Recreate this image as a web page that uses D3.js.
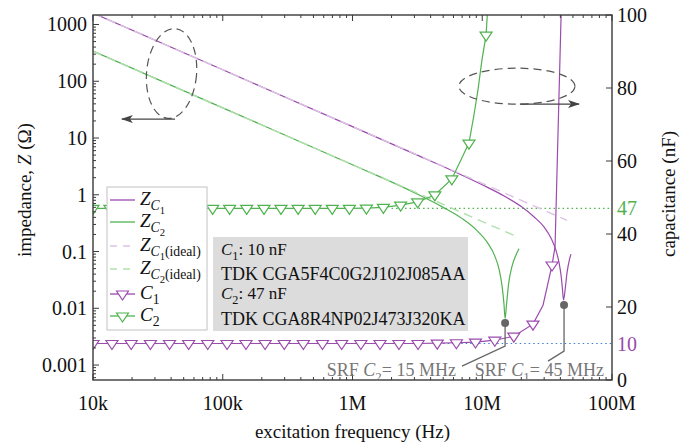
<!DOCTYPE html>
<html>
<head>
<meta charset="utf-8">
<style>
body { margin: 0; background: #fff; }
svg { display: block; font-family: "Liberation Serif", "DejaVu Serif", serif; }
</style>
</head>
<body>
<div id="chart"></div>
<script src="https://cdn.jsdelivr.net/npm/d3@7"></script>
<script>
// impedance, measured (Hz, ohm)
const zc1Freq = [1e4, 1e5, 1e6, 3e6, 6e6, 1e7, 1.5e7, 2e7, 2.5e7, 3e7, 3.4e7, 3.7e7, 3.9e7, 4.05e7, 4.15e7, 4.23e7, 4.35e7, 4.5e7, 4.7e7, 4.83e7];
const zc1Val  = [1590, 159, 15.9, 5.25, 2.6, 1.5, 0.93, 0.62, 0.41, 0.27, 0.17, 0.105, 0.065, 0.038, 0.022, 0.014, 0.021, 0.042, 0.072, 0.09];
const zc2Freq = [1e4, 1e5, 1e6, 3e6, 5e6, 7e6, 9e6, 1.1e7, 1.25e7, 1.35e7, 1.42e7, 1.47e7, 1.5e7, 1.54e7, 1.6e7, 1.7e7, 1.8e7, 1.92e7];
const zc2Val  = [339, 33.9, 3.39, 1.09, 0.60, 0.38, 0.24, 0.142, 0.083, 0.048, 0.025, 0.012, 0.0066, 0.012, 0.028, 0.056, 0.082, 0.112];

// ideal capacitor impedance
const zc1IdealFreq = [1e4, 4.5e7];
const zc1IdealVal  = [1590, 0.354];
const zc2IdealFreq = [1e4, 1.9e7];
const zc2IdealVal  = [339, 0.178];

// effective capacitance (nF), marker points
const c1Freq = [1e4, 1.40e4, 1.97e4, 2.77e4, 3.89e4, 5.46e4, 7.66e4, 1.08e5, 1.51e5, 2.12e5, 2.98e5, 4.18e5, 5.87e5, 8.25e5, 1.16e6, 1.63e6, 2.28e6, 3.20e6, 4.50e6, 6.32e6, 8.87e6, 1.25e7, 1.75e7, 2.46e7, 3.45e7];
const c1Cap  = [10, 10, 10, 10, 10, 10, 10, 10, 10, 10, 10, 10, 10, 10, 10, 10, 10, 10, 10.1, 10.2, 10.4, 10.9, 12.0, 15.3, 31.5];
// extra line points between markers
const c1FreqX = [2.94e7, 3.64e7, 4.08e7];
const c1CapX  = [20.5, 36.5, 104];

const c2Freq = [1e4, 1.35e4, 1.83e4, 2.48e4, 3.36e4, 4.55e4, 6.17e4, 8.36e4, 1.13e5, 1.53e5, 2.08e5, 2.81e5, 3.81e5, 5.16e5, 6.98e5, 9.46e5, 1.28e6, 1.73e6, 2.35e6, 3.18e6, 4.31e6, 5.83e6, 7.90e6, 1.07e7];
const c2Cap  = [47, 47, 47, 47, 47, 47, 47, 47, 47, 47, 47, 47, 47, 47, 47, 47, 47.1, 47.3, 47.9, 48.8, 50.7, 55.1, 64.9, 94.5];
const c2FreqX = [8.63e6, 9.27e6, 9.95e6, 1.12e7];
const c2CapX  = [72.6, 79.5, 87.7, 106];

// axis ticks
const fTicks = [1e4, 1e5, 1e6, 1e7, 1e8];
const fTickLabels = ["10k", "100k", "1M", "10M", "100M"];
const zTicks = [0.001, 0.01, 0.1, 1, 10, 100, 1000];
const zTickLabels = ["0.001", "0.01", "0.1", "1", "10", "100", "1000"];
const cTicks = [0, 20, 40, 60, 80, 100];

const purple = "#9b4aad", purpleLight = "#dcc4e4";
const green = "#4fb24f", greenLight = "#b2dfae";
const grey = "#666";

const width = 697, height = 445;
const pl = 93, pr = 612, pt = 15, pb = 380;

const x = d3.scaleLog().domain([1e4, 1e8]).range([pl, pr]);
const y = d3.scaleLog().domain([5.45e-4, 1470]).range([pb, pt]);
const yc = d3.scaleLinear().domain([0, 100]).range([pb, pt]);

const svg = d3.select("#chart").append("svg")
    .attr("width", width).attr("height", height);

svg.append("clipPath").attr("id", "clip")
  .append("rect").attr("x", pl).attr("y", pt)
    .attr("width", pr - pl).attr("height", pb - pt);

const zip = (a, b) => a.map((v, i) => [v, b[i]]);
const merge = (fa, va, fb, vb) => zip(fa, va).concat(zip(fb, vb)).sort((p, q) => p[0] - q[0]);

const zLine = d3.line().x(d => x(d[0])).y(d => y(d[1])).curve(d3.curveMonotoneX);
const cLine = d3.line().x(d => x(d[0])).y(d => yc(d[1]));

const plot = svg.append("g").attr("clip-path", "url(#clip)");

// reference levels
plot.append("line")
    .attr("x1", x(2e6)).attr("x2", pr)
    .attr("y1", yc(47)).attr("y2", yc(47))
    .attr("stroke", green).attr("stroke-width", 1.2).attr("stroke-dasharray", "1.5,3");
plot.append("line")
    .attr("x1", x(5e6)).attr("x2", pr)
    .attr("y1", yc(10)).attr("y2", yc(10))
    .attr("stroke", "#3f7fd6").attr("stroke-width", 1.2).attr("stroke-dasharray", "1.5,3");

// impedance curves
plot.append("path").datum(zip(zc1Freq, zc1Val))
    .attr("d", zLine).attr("fill", "none").attr("stroke", purple).attr("stroke-width", 1.2);
plot.append("path").datum(zip(zc2Freq, zc2Val))
    .attr("d", zLine).attr("fill", "none").attr("stroke", green).attr("stroke-width", 1.2);
plot.append("path").datum(zip(zc1IdealFreq, zc1IdealVal))
    .attr("d", zLine).attr("fill", "none").attr("stroke", purpleLight).attr("stroke-width", 1.4)
    .attr("stroke-dasharray", "9,6");
plot.append("path").datum(zip(zc2IdealFreq, zc2IdealVal))
    .attr("d", zLine).attr("fill", "none").attr("stroke", greenLight).attr("stroke-width", 1.4)
    .attr("stroke-dasharray", "9,6");

// capacitance curves with markers
const tri = "M-6,-3L6,-3L0,6Z";
function capSeries(f, v, fx, vx, col) {
  plot.append("path").datum(merge(f, v, fx, vx))
      .attr("d", cLine).attr("fill", "none").attr("stroke", col).attr("stroke-width", 1.2);
  plot.selectAll(null).data(zip(f, v)).join("path")
      .attr("d", tri)
      .attr("transform", d => `translate(${x(d[0])},${yc(d[1])})`)
      .attr("fill", "#fff").attr("stroke", col).attr("stroke-width", 1.2);
}
capSeries(c1Freq, c1Cap, c1FreqX, c1CapX, purple);
capSeries(c2Freq, c2Cap, c2FreqX, c2CapX, green);

// frame and ticks
const axisCol = "#3a3a3a";
svg.append("rect").attr("x", pl).attr("y", pt)
    .attr("width", pr - pl).attr("height", pb - pt)
    .attr("fill", "none").attr("stroke", axisCol).attr("stroke-width", 1.4);

const tk = svg.append("g").attr("stroke", axisCol).attr("stroke-width", 1);
x.ticks().forEach(t => {
  const major = fTicks.includes(t);
  const len = major ? 6 : 3;
  tk.append("line").attr("x1", x(t)).attr("x2", x(t)).attr("y1", pb).attr("y2", pb - len);
  tk.append("line").attr("x1", x(t)).attr("x2", x(t)).attr("y1", pt).attr("y2", pt + len);
});
y.ticks().forEach(t => {
  const major = zTicks.some(z => Math.abs(z - t) / z < 1e-6);
  tk.append("line").attr("x1", pl).attr("x2", pl + (major ? 6 : 3)).attr("y1", y(t)).attr("y2", y(t));
});
cTicks.forEach(t => {
  tk.append("line").attr("x1", pr).attr("x2", pr - 6).attr("y1", yc(t)).attr("y2", yc(t));
});

const fs = 20;
svg.append("g").selectAll("text").data(fTicks).join("text")
    .attr("x", d => x(d)).attr("y", 410).attr("text-anchor", "middle")
    .attr("font-size", fs).attr("fill", "#111")
    .text((d, i) => fTickLabels[i]);
svg.append("g").selectAll("text").data(zTicks).join("text")
    .attr("x", pl - 6).attr("y", d => y(d) + 7).attr("text-anchor", "end")
    .attr("font-size", fs).attr("fill", "#111")
    .text((d, i) => zTickLabels[i]);
svg.append("g").selectAll("text").data(cTicks).join("text")
    .attr("x", pr + 5).attr("y", d => yc(d) + 7)
    .attr("font-size", fs).attr("fill", "#111")
    .text(d => d);
svg.append("text").attr("x", pr + 5).attr("y", yc(47) + 7)
    .attr("font-size", fs).attr("fill", green).text("47");
svg.append("text").attr("x", pr + 5).attr("y", yc(10) + 7)
    .attr("font-size", fs).attr("fill", purple).text("10");

// rich text helper (italic + subscripts)
function rich(g, px, py, parts, size, anchor) {
  const t = g.append("text").attr("x", px).attr("y", py).attr("font-size", size);
  if (anchor) t.attr("text-anchor", anchor);
  const off = [0, 0.28, 0.46], sc = [1, 0.72, 0.56];
  let lvl = 0;
  parts.forEach(p => {
    const l = p.l || 0;
    const s = t.append("tspan").text(p.t)
        .attr("font-size", size * sc[l])
        .attr("dy", (off[l] - off[lvl]) * size);
    if (p.i) s.attr("font-style", "italic");
    lvl = l;
  });
  return t;
}

// axis titles
svg.append("text").attr("transform", "translate(31,190) rotate(-90)")
    .attr("text-anchor", "middle").attr("font-size", 19).attr("fill", "#111")
    .call(t => {
      t.append("tspan").text("impedance, ");
      t.append("tspan").attr("font-style", "italic").text("Z");
      t.append("tspan").text(" (Ω)");
    });
svg.append("text").attr("transform", "translate(675,194) rotate(-90)")
    .attr("text-anchor", "middle").attr("font-size", 19).attr("fill", "#111")
    .text("capacitance (nF)");
svg.append("text").attr("x", (pl + pr) / 2).attr("y", 438)
    .attr("text-anchor", "middle").attr("font-size", 19).attr("fill", "#111")
    .text("excitation frequency (Hz)");

// ellipses with arrows
svg.append("defs").append("marker").attr("id", "arrow")
    .attr("viewBox", "0 0 12 8").attr("refX", 11).attr("refY", 4)
    .attr("markerWidth", 12).attr("markerHeight", 8).attr("markerUnits", "userSpaceOnUse")
    .attr("orient", "auto")
  .append("path").attr("d", "M0,0L12,4L0,8L3,4Z").attr("fill", "#444");

const ann = svg.append("g").attr("stroke", "#555").attr("fill", "none").attr("stroke-width", 1.2);
ann.append("ellipse")
    .attr("transform", `translate(${x(4.03e4)},${y(137)}) rotate(5)`)
    .attr("rx", 25).attr("ry", 45).attr("stroke-dasharray", "8,5");
ann.append("line")
    .attr("x1", x(4.29e4)).attr("x2", x(1.67e4)).attr("y1", y(21.6)).attr("y2", y(21.6))
    .attr("marker-end", "url(#arrow)").attr("stroke", "#444");
ann.append("ellipse")
    .attr("cx", x(1.85e7)).attr("cy", yc(80.5))
    .attr("rx", 58).attr("ry", 18).attr("stroke-dasharray", "8,5");
ann.append("line")
    .attr("x1", x(1.95e7)).attr("x2", x(5.57e7)).attr("y1", yc(75.6)).attr("y2", yc(75.6))
    .attr("marker-end", "url(#arrow)").attr("stroke", "#444");

// SRF markers
const srf = svg.append("g");
srf.append("path")
    .attr("d", d3.line()([[x(1.5e7), y(0.0055)], [x(1.5e7), y(0.00216)], [x(6.98e6), y(0.00096)]]))
    .attr("fill", "none").attr("stroke", grey).attr("stroke-width", 1.3);
srf.append("path")
    .attr("d", d3.line()([[x(4.27e7), y(0.0114)], [x(4.27e7), y(0.00176)], [x(3.21e7), y(0.00117)]]))
    .attr("fill", "none").attr("stroke", grey).attr("stroke-width", 1.3);
srf.append("circle").attr("cx", x(1.5e7)).attr("cy", y(0.0055)).attr("r", 4).attr("fill", grey);
srf.append("circle").attr("cx", x(4.27e7)).attr("cy", y(0.0114)).attr("r", 4).attr("fill", grey);
rich(srf, 456, 376, [{t: "SRF "}, {t: "C", i: 1}, {t: "2", l: 1}, {t: "= 15 MHz"}], 18, "end").attr("fill", "#777");
rich(srf, 604, 376, [{t: "SRF "}, {t: "C", i: 1}, {t: "1", l: 1}, {t: "= 45 MHz"}], 18, "end").attr("fill", "#777");

// part info box
const box = svg.append("g");
box.append("rect").attr("x", 213).attr("y", 237).attr("width", 255).attr("height", 94).attr("fill", "#dcdcdc");
rich(box, 221, 255, [{t: "C", i: 1}, {t: "1", l: 1}, {t: ":  10 nF"}], 17).attr("fill", "#111");
box.append("text").attr("x", 221).attr("y", 280).attr("font-size", 18).attr("fill", "#111").text("TDK CGA5F4C0G2J102J085AA");
rich(box, 221, 299, [{t: "C", i: 1}, {t: "2", l: 1}, {t: ":  47 nF"}], 17).attr("fill", "#111");
box.append("text").attr("x", 221).attr("y", 325).attr("font-size", 18).attr("fill", "#111").text("TDK CGA8R4NP02J473J320KA");

// legend
const lg = svg.append("g");
lg.append("rect").attr("x", 107).attr("y", 187).attr("width", 100).attr("height", 143)
    .attr("fill", "#fff").attr("stroke", "#ccc").attr("stroke-width", 1.2);
const rows = [
  {c: purple, dash: null, mk: false, parts: [{t: "Z", i: 1}, {t: "C", i: 1, l: 1}, {t: "1", l: 2}]},
  {c: green, dash: null, mk: false, parts: [{t: "Z", i: 1}, {t: "C", i: 1, l: 1}, {t: "2", l: 2}]},
  {c: purpleLight, dash: "7,6", mk: false, parts: [{t: "Z", i: 1}, {t: "C", i: 1, l: 1}, {t: "1", l: 2}, {t: "(ideal)", l: 1}]},
  {c: greenLight, dash: "7,6", mk: false, parts: [{t: "Z", i: 1}, {t: "C", i: 1, l: 1}, {t: "2", l: 2}, {t: "(ideal)", l: 1}]},
  {c: purple, dash: null, mk: true, parts: [{t: "C", i: 1}, {t: "1", l: 1}]},
  {c: green, dash: null, mk: true, parts: [{t: "C", i: 1}, {t: "2", l: 1}]}
];
const rowY = [200, 222, 246, 269, 294, 316];
rows.forEach((r, i) => {
  const yy = rowY[i];
  lg.append("line").attr("x1", 110).attr("x2", 135).attr("y1", yy).attr("y2", yy)
      .attr("stroke", r.c).attr("stroke-width", 1.3).attr("stroke-dasharray", r.dash);
  if (r.mk) lg.append("path").attr("d", tri).attr("transform", `translate(122.5,${yy})`)
      .attr("fill", "#fff").attr("stroke", r.c).attr("stroke-width", 1.2);
  rich(lg, 140, yy + 5, r.parts, 19).attr("fill", "#111");
});
</script>
</body>
</html>
